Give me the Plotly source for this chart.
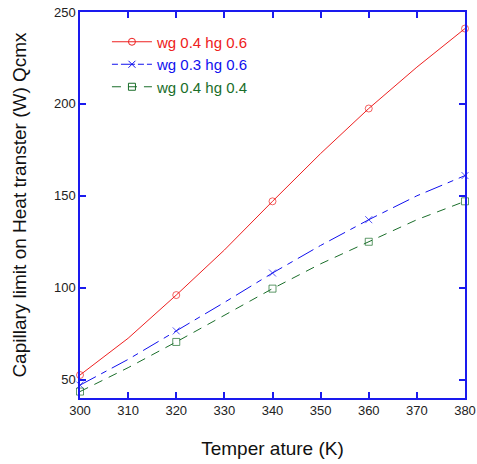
import plotly.graph_objects as go

temps = [300, 310, 320, 330, 340, 350, 360, 370, 380]
q_wg04_hg06 = [52.5, 72.5, 96, 120.5, 147, 173, 197.5, 220, 241]
q_wg03_hg06 = [47, 61, 76.5, 92, 108, 123, 137, 150, 161]
q_wg04_hg04 = [43.5, 56.5, 70.5, 85, 99.5, 113, 125, 137, 147]
names = ["wg 0.4 hg 0.6", "wg 0.3 hg 0.6", "wg 0.4 hg 0.4"]

colors = ["#ee2020", "#1010ee", "#1a6e2a"]
symbols = ["circle-open", "x-thin-open", "square-open"]
dashes = ["solid", "18px,6px,6px,6px", "9px,7px"]
legend_dashes = ["solid", "6px,3px,14px,3px", "9px,7px"]
msize = [7 if i % 2 == 0 else 0 for i in range(len(temps))]

fig = go.Figure()
for ys, c, s, d in zip([q_wg04_hg06, q_wg03_hg06, q_wg04_hg04], colors, symbols, dashes):
    fig.add_trace(go.Scatter(
        x=temps, y=ys, mode="lines+markers", showlegend=False, cliponaxis=False,
        line=dict(color=c, width=1, dash=d),
        marker=dict(symbol=s, size=msize, color=c, line=dict(color=c, width=1)),
    ))
for nm, c, s, d in zip(names, colors, symbols, legend_dashes):
    fig.add_trace(go.Scatter(
        x=[None], y=[None], mode="lines+markers",
        name=f"<span style='color:{c}'>{nm}</span>",
        line=dict(color=c, width=1, dash=d),
        marker=dict(symbol=s, size=7, color=c, line=dict(color=c, width=1)),
    ))

axis_common = dict(
    showline=True, linecolor="#1a1aee", linewidth=1.5, mirror="ticks",
    ticks="inside", tickcolor="#1a1aee", ticklen=6, tickwidth=1.5,
    showgrid=False, zeroline=False, automargin=False,
    tickfont=dict(family="Arial, Liberation Sans", size=13, color="#222"),
)
fig.update_xaxes(range=[300, 380], tickvals=list(range(300, 381, 10)),
                 title=dict(text="Temper ature (K)", font=dict(family="Arial, Liberation Sans", size=19, color="#111"), standoff=24),
                 **axis_common)
fig.update_yaxes(range=[40, 250], tickvals=[50, 100, 150, 200, 250],
                 title=dict(text="Capillary limit on Heat transter (W) Qcmx", font=dict(family="Arial, Liberation Sans", size=19, color="#111"), standoff=22),
                 **axis_common)
fig.update_layout(
    width=477, height=464,
    margin=dict(l=80, r=12, t=12, b=66),
    plot_bgcolor="white", paper_bgcolor="white",
    showlegend=True, hovermode=False,
    legend=dict(x=0.07, y=0.965, xanchor="left", yanchor="top", bgcolor="rgba(0,0,0,0)",
                font=dict(family="Arial, Liberation Sans", size=15), tracegroupgap=0,
                itemwidth=40),
)
fig.write_html("out.html", config={"displayModeBar": False},
               post_script="document.body.style.margin='0';document.body.style.overflow='hidden';")
